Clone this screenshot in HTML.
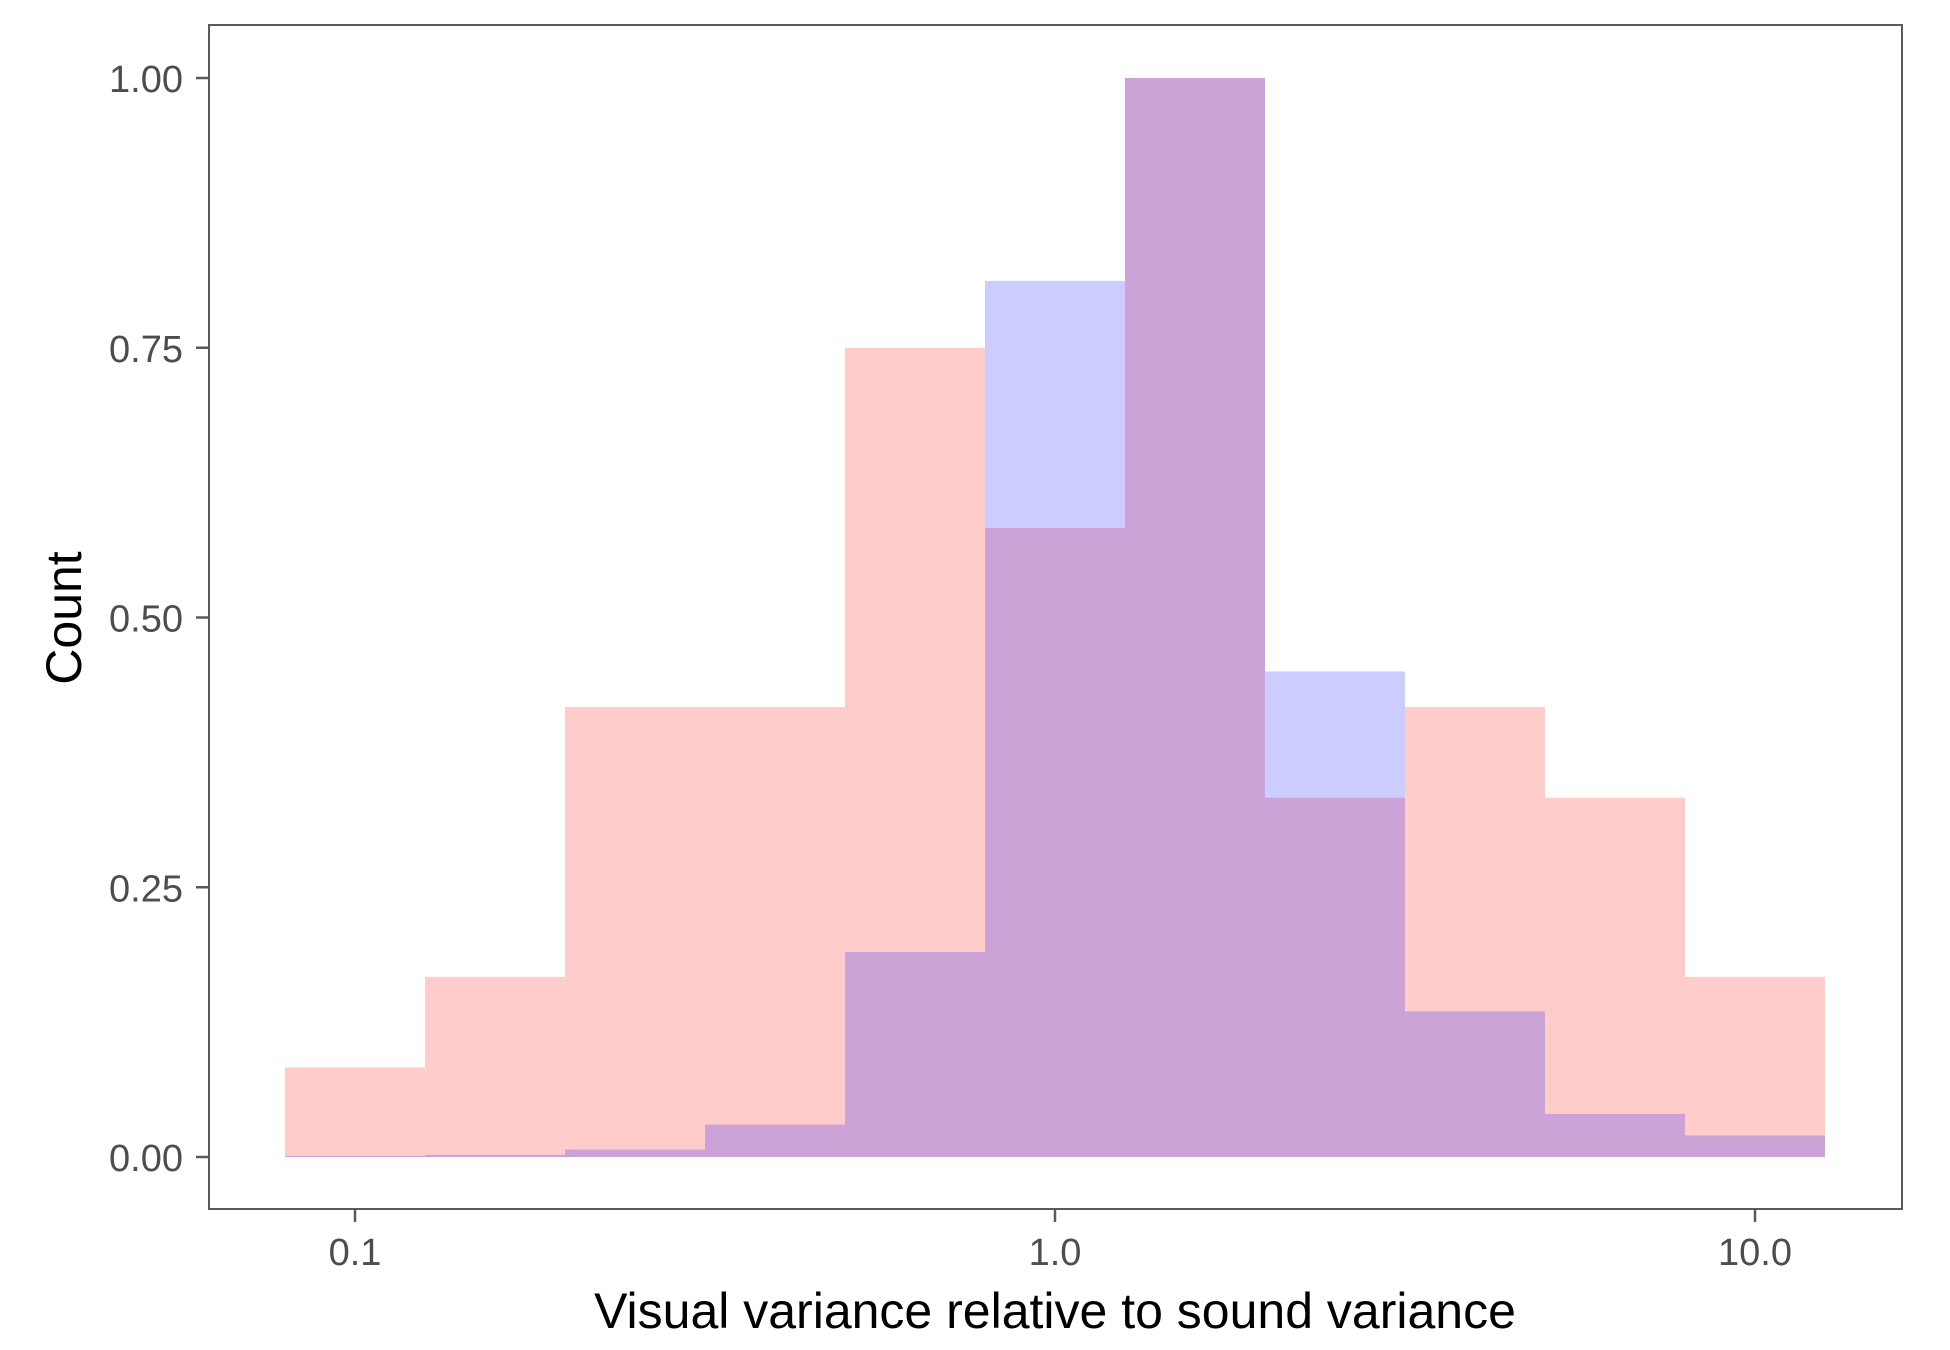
<!DOCTYPE html>
<html><head><meta charset="utf-8"><style>
html,body{margin:0;padding:0;background:#fff;}
svg{display:block;font-family:"Liberation Sans",Arial,sans-serif;}
</style></head><body>
<svg id="chart" width="1950" height="1350" viewBox="0 0 1950 1350">
<rect x="0" y="0" width="1950" height="1350" fill="#fff"/>
<g id="bars"></g>
<rect x="209" y="25" width="1693" height="1184" fill="none" stroke="#5a5a5a" stroke-width="2"/>
<g id="axes"></g>
<text x="1055" y="1328" text-anchor="middle" font-size="50" fill="#000">Visual variance relative to sound variance</text>
<text transform="translate(81,618) rotate(-90)" text-anchor="middle" font-size="50" fill="#000">Count</text>
</svg>
<script>
const binEdgesLog = [-1.1,-0.9,-0.7,-0.5,-0.3,-0.1,0.1,0.3,0.5,0.7,0.9,1.1];
const pinkValues = [0.083,0.167,0.417,0.417,0.75,0.583,1.0,0.333,0.417,0.333,0.167];
const blueValues = [0.001,0.002,0.007,0.03,0.19,0.812,1.0,0.45,0.135,0.04,0.02];
const yTicks = [0,0.25,0.5,0.75,1.0];
const yTickLabels = ["0.00","0.25","0.50","0.75","1.00"];
const xTicks = [0.1,1,10];
const xTickLabels = ["0.1","1.0","10.0"];

const NS = "http://www.w3.org/2000/svg";
function xScale(logv){ return 1055 + logv*700; }
function yScale(v){ return 1157 - v*1079; }
function mk(tag, attrs){ const e=document.createElementNS(NS,tag); for(const k in attrs) e.setAttribute(k,attrs[k]); return e; }

const bars = document.getElementById('bars');
function drawSeries(vals, color, name){
  vals.forEach((v,i)=>{
    const x0=xScale(binEdgesLog[i]), x1=xScale(binEdgesLog[i+1]);
    const r=mk('rect',{x:x0,y:yScale(v),width:x1-x0,height:yScale(0)-yScale(v),fill:color,'fill-opacity':0.2});
    
    
    bars.appendChild(r);
  });
}
drawSeries(pinkValues,'#ff0000','pink');
drawSeries(blueValues,'#0000ff','blue');

const axes = document.getElementById('axes');
yTicks.forEach((t,i)=>{
  const y=yScale(t);
  const l=mk('line',{x1:196,x2:209,y1:y,y2:y,stroke:'#5a5a5a','stroke-width':2.5});
  
  
  axes.appendChild(l);
  const tx=mk('text',{x:183,y:y+14,'text-anchor':'end','font-size':38,fill:'#4d4d4d'});
  tx.textContent=yTickLabels[i];
  
  
  axes.appendChild(tx);
});
xTicks.forEach((t,i)=>{
  const x=xScale(Math.log10(t));
  const l=mk('line',{x1:x,x2:x,y1:1209,y2:1222,stroke:'#5a5a5a','stroke-width':2.5});
  
  
  axes.appendChild(l);
  const tx=mk('text',{x:x,y:1265,'text-anchor':'middle','font-size':38,fill:'#4d4d4d'});
  tx.textContent=xTickLabels[i];
  
  
  axes.appendChild(tx);
});
</script>
</body></html>
